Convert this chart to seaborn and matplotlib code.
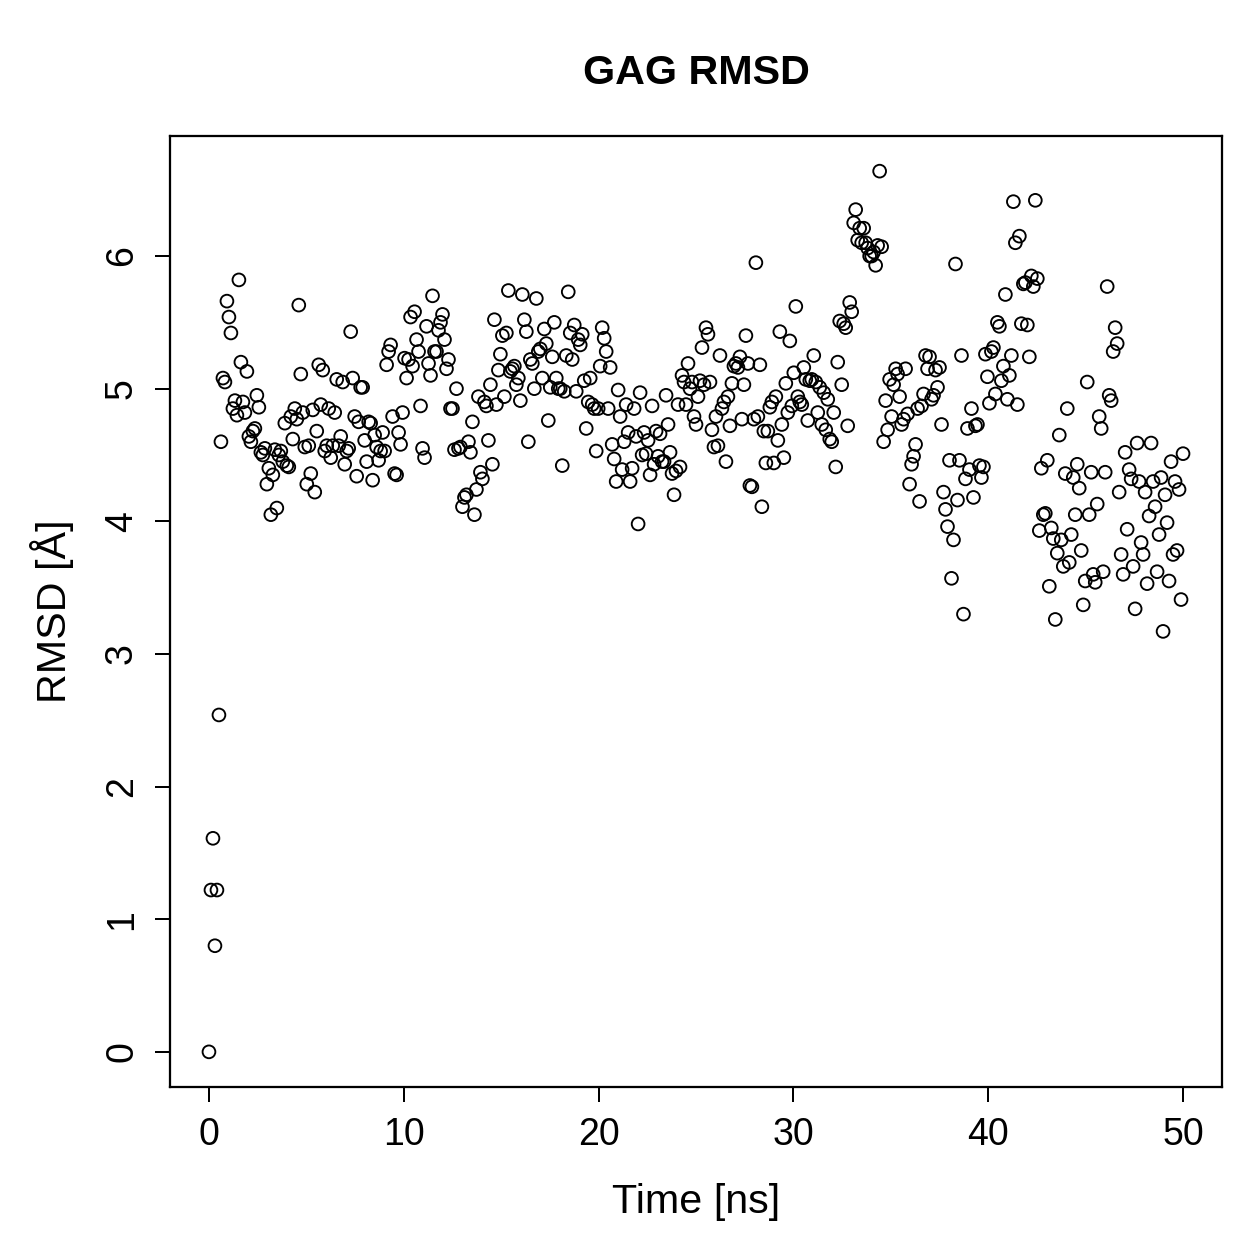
import numpy as np
import pandas as pd
import seaborn as sns
import matplotlib
matplotlib.use("Agg")
import matplotlib.pyplot as plt

# RMSD values (Angstrom), evenly spaced in time from 0 to 50 ns
rmsd = [
    0.00, 1.22, 1.61, 0.80, 1.22, 2.54, 4.60, 5.08, 5.05, 5.66,
    5.54, 5.42, 4.85, 4.91, 4.80, 5.82, 5.20, 4.90, 4.82, 5.13,
    4.64, 4.60, 4.68, 4.70, 4.95, 4.86, 4.52, 4.50, 4.55, 4.28,
    4.40, 4.05, 4.35, 4.54, 4.10, 4.50, 4.53, 4.45, 4.74, 4.42,
    4.41, 4.79, 4.62, 4.85, 4.77, 5.63, 5.11, 4.82, 4.56, 4.28,
    4.57, 4.36, 4.84, 4.22, 4.68, 5.18, 4.88, 5.14, 4.53, 4.57,
    4.85, 4.48, 4.57, 4.82, 5.07, 4.57, 4.64, 5.05, 4.43, 4.53,
    4.55, 5.43, 5.08, 4.79, 4.34, 4.75, 5.01, 5.01, 4.61, 4.45,
    4.75, 4.74, 4.31, 4.65, 4.56, 4.46, 4.53, 4.67, 4.53, 5.18,
    5.28, 5.33, 4.79, 4.36, 4.35, 4.67, 4.58, 4.82, 5.23, 5.08,
    5.22, 5.54, 5.17, 5.58, 5.37, 5.28, 4.87, 4.55, 4.48, 5.47,
    5.19, 5.10, 5.70, 5.28, 5.28, 5.44, 5.50, 5.56, 5.37, 5.15,
    5.22, 4.85, 4.85, 4.54, 5.00, 4.55, 4.56, 4.11, 4.18, 4.20,
    4.60, 4.52, 4.75, 4.05, 4.24, 4.94, 4.37, 4.32, 4.90, 4.87,
    4.61, 5.03, 4.43, 5.52, 4.88, 5.14, 5.26, 5.40, 4.94, 5.42,
    5.74, 5.13, 5.15, 5.17, 5.03, 5.08, 4.91, 5.71, 5.52, 5.43,
    4.60, 5.22, 5.19, 5.00, 5.68, 5.28, 5.30, 5.08, 5.45, 5.34,
    4.76, 5.01, 5.24, 5.50, 5.08, 5.00, 5.00, 4.42, 4.98, 5.25,
    5.73, 5.42, 5.22, 5.48, 4.98, 5.37, 5.33, 5.41, 5.06, 4.70,
    4.90, 5.08, 4.88, 4.85, 4.53, 4.85, 5.17, 5.46, 5.38, 5.28,
    4.85, 5.16, 4.58, 4.47, 4.30, 4.99, 4.79, 4.39, 4.60, 4.88,
    4.67, 4.30, 4.40, 4.85, 4.64, 3.98, 4.97, 4.50, 4.67, 4.51,
    4.61, 4.35, 4.87, 4.43, 4.68, 4.49, 4.66, 4.45, 4.45, 4.95,
    4.73, 4.52, 4.36, 4.20, 4.38, 4.88, 4.41, 5.10, 5.05, 4.88,
    5.19, 5.00, 5.05, 4.79, 4.73, 4.94, 5.06, 5.31, 5.03, 5.46,
    5.41, 5.05, 4.69, 4.56, 4.79, 4.57, 5.25, 4.85, 4.90, 4.45,
    4.94, 4.72, 5.04, 5.17, 5.19, 5.16, 5.24, 4.77, 5.03, 5.40,
    5.19, 4.27, 4.26, 4.77, 5.95, 4.79, 5.18, 4.11, 4.68, 4.44,
    4.68, 4.86, 4.90, 4.44, 4.94, 4.61, 5.43, 4.73, 4.48, 5.04,
    4.82, 5.36, 4.87, 5.12, 5.62, 4.94, 4.90, 4.88, 5.16, 5.07,
    4.76, 5.06, 5.07, 5.25, 5.05, 4.82, 5.01, 4.73, 4.97, 4.69,
    4.92, 4.62, 4.60, 4.82, 4.41, 5.20, 5.51, 5.03, 5.49, 5.46,
    4.72, 5.65, 5.58, 6.25, 6.35, 6.12, 6.21, 6.10, 6.21, 6.10,
    6.06, 6.00, 6.00, 6.03, 5.93, 6.08, 6.64, 6.07, 4.60, 4.91,
    4.69, 5.07, 4.79, 5.03, 5.15, 5.11, 4.94, 4.73, 4.77, 5.15,
    4.81, 4.28, 4.43, 4.49, 4.58, 4.85, 4.15, 4.87, 4.96, 5.25,
    5.15, 5.24, 4.92, 4.95, 5.14, 5.01, 5.16, 4.73, 4.22, 4.09,
    3.96, 4.46, 3.57, 3.86, 5.94, 4.16, 4.46, 5.25, 3.30, 4.32,
    4.70, 4.39, 4.85, 4.18, 4.72, 4.73, 4.42, 4.33, 4.41, 5.26,
    5.09, 4.89, 5.28, 5.31, 4.96, 5.50, 5.47, 5.06, 5.17, 5.71,
    4.92, 5.10, 5.25, 6.41, 6.10, 4.88, 6.15, 5.49, 5.79, 5.80,
    5.48, 5.24, 5.85, 5.77, 6.42, 5.83, 3.93, 4.40, 4.05, 4.06,
    4.46, 3.51, 3.95, 3.87, 3.26, 3.76, 4.65, 3.86, 3.66, 4.36,
    4.85, 3.69, 3.90, 4.33, 4.05, 4.43, 4.25, 3.78, 3.37, 3.55,
    5.05, 4.05, 4.37, 3.60, 3.54, 4.13, 4.79, 4.70, 3.62, 4.37,
    5.77, 4.95, 4.91, 5.28, 5.46, 5.34, 4.22, 3.75, 3.60, 4.52,
    3.94, 4.39, 4.32, 3.66, 3.34, 4.59, 4.30, 3.84, 3.75, 4.22,
    3.53, 4.04, 4.59, 4.30, 4.11, 3.62, 3.90, 4.33, 3.17, 4.20,
    3.99, 3.55, 4.45, 3.75, 4.30, 3.78, 4.24, 3.41, 4.51,
]
time_ns = np.linspace(0, 50, len(rmsd))

df = pd.DataFrame({"Time": time_ns, "RMSD": rmsd})

sns.set_style("white")
plt.rcParams['font.family'] = ['Liberation Sans', 'DejaVu Sans']
plt.rcParams['text.color'] = 'black'
plt.rcParams['axes.labelcolor'] = 'black'

fig = plt.figure(figsize=(1259 / 180, 1259 / 180), dpi=180)
ax = fig.add_axes([170 / 1259, 1 - 1087 / 1259, (1222 - 170) / 1259, (1087 - 136) / 1259])

sns.scatterplot(data=df, x="Time", y="RMSD", ax=ax, s=26,
                facecolors='none', edgecolor='black', linewidth=0.75)

ax.set_xlim(-2, 52)
ax.set_ylim(-0.265, 6.905)
ax.set_xticks([0, 10, 20, 30, 40, 50])
ax.set_yticks([0, 1, 2, 3, 4, 5, 6])
ax.tick_params(direction='out', length=6, width=0.8, labelsize=15, pad=6,
               bottom=True, left=True, colors='black')
for lab in ax.get_yticklabels():
    lab.set_rotation(90)
    lab.set_va('center')

for sp in ax.spines.values():
    sp.set_color('black')
    sp.set_linewidth(0.9)

ax.set_xlabel('Time [ns]', fontsize=16.5, labelpad=12, color='black')
ax.set_ylabel('RMSD [Å]', fontsize=16.5, labelpad=12, color='black')
ax.set_title('GAG RMSD', fontsize=16.5, fontweight='bold', pad=21, color='black')

fig.savefig('out.png', dpi=180)
